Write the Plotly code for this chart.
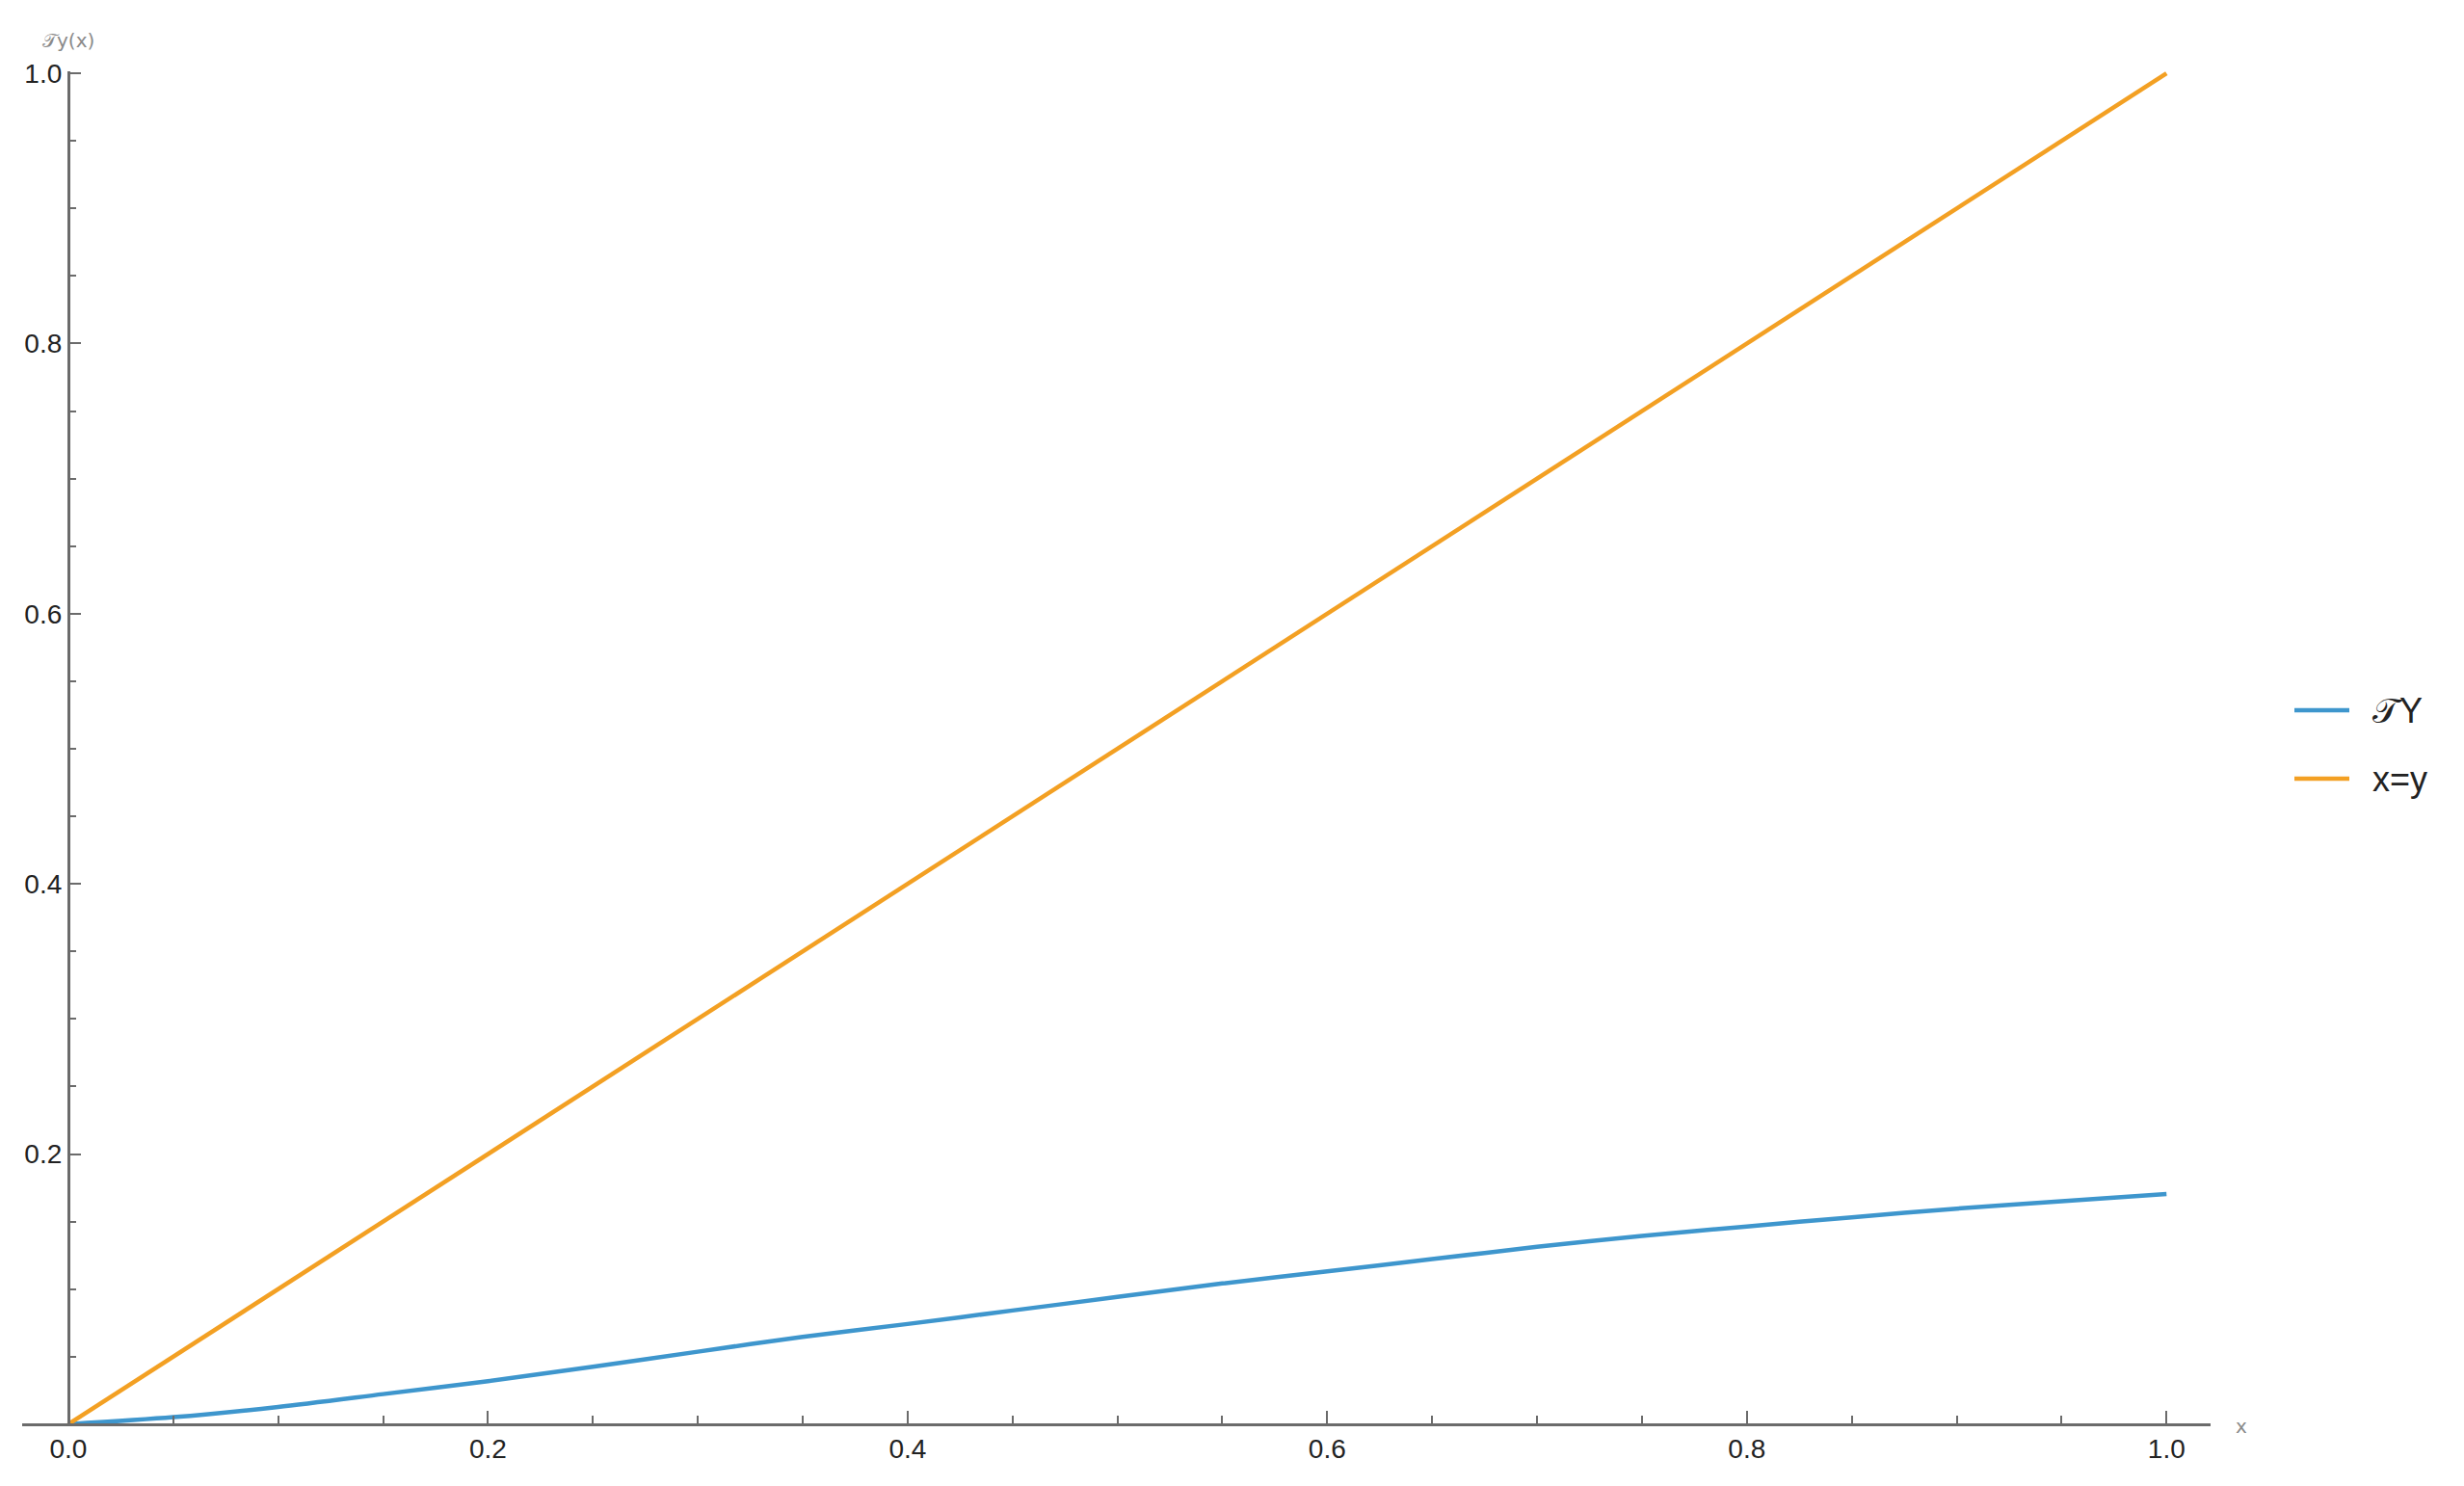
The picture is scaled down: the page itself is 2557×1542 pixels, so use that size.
import plotly.graph_objects as go

# ---- data ----
x_vals = [0.0, 0.05, 0.1, 0.15, 0.2, 0.25, 0.3, 0.35, 0.4, 0.45, 0.5,
          0.55, 0.6, 0.65, 0.7, 0.75, 0.8, 0.85, 0.9, 0.95, 1.0]
ty_vals = [0.0, 0.0052, 0.0128, 0.0223, 0.0319, 0.0426, 0.0537, 0.0647, 0.0742, 0.0842, 0.0942,
           0.1042, 0.1132, 0.1222, 0.1313, 0.1394, 0.1464, 0.1532, 0.1596, 0.1650, 0.1705]
diag_x = [0.0, 1.0]
diag_y = [0.0, 1.0]
series_names = ["\U0001D4AFY", "x=y"]
x_ticks = [0.0, 0.2, 0.4, 0.6, 0.8, 1.0]
y_ticks = [0.2, 0.4, 0.6, 0.8, 1.0]

BLUE = "#3E96CD"
ORANGE = "#F3A023"
AXIS = "#6b6b6b"

W, H = 2557, 1542          # browser window
OFF = 8                    # default page body margin
FW, FH = W - 2 * OFF, H - 2 * OFF
XR = [-0.022, 1.021]
YR = [-0.0015, 1.0015]
# plot area in page pixels
P_LEFT, P_RIGHT, P_TOP, P_BOTTOM = 23, 2294, 74, 1480
ML = P_LEFT - OFF
MT = P_TOP - OFF
MR = FW - (P_RIGHT - OFF)
MB = FH - (P_BOTTOM - OFF)
PW = P_RIGHT - P_LEFT
PH = P_BOTTOM - P_TOP


def px(xp):
    return (xp - P_LEFT) / PW


def py(yp):
    return (P_BOTTOM - yp) / PH


fig = go.Figure()
fig.add_trace(go.Scatter(x=x_vals, y=ty_vals, mode="lines", name=series_names[0],
                         line=dict(color=BLUE, width=4.5, shape="spline", smoothing=0.8),
                         showlegend=False))
fig.add_trace(go.Scatter(x=diag_x, y=diag_y, mode="lines", name=series_names[1],
                         line=dict(color=ORANGE, width=4.5), showlegend=False))

xpos = (0 - YR[0]) / (YR[1] - YR[0])
ypos = (0 - XR[0]) / (XR[1] - XR[0])

tickfont = dict(family="Liberation Sans, Arial, sans-serif", size=28, color="#222222")

fig.update_layout(
    width=FW, height=FH,
    margin=dict(l=ML, r=MR, t=MT, b=MB, autoexpand=False),
    paper_bgcolor="white", plot_bgcolor="white",
    xaxis=dict(range=XR, anchor="free", position=xpos, showgrid=False, zeroline=False,
               automargin=False,
               showline=True, linecolor=AXIS, linewidth=3,
               tickmode="array", tickvals=x_ticks, ticktext=[f"{v:.1f}" for v in x_ticks],
               ticks="inside", ticklen=13, tickwidth=2, tickcolor=AXIS,
               minor=dict(dtick=0.05, tick0=0, ticks="inside", ticklen=8, tickwidth=2,
                          tickcolor=AXIS, showgrid=False),
               tickfont=tickfont),
    yaxis=dict(range=YR, anchor="free", position=ypos, showgrid=False, zeroline=False,
               automargin=False,
               showline=True, linecolor=AXIS, linewidth=3,
               tickmode="array", tickvals=y_ticks, ticktext=[f"{v:.1f}" for v in y_ticks],
               ticks="inside", ticklen=11, tickwidth=2, tickcolor=AXIS,
               minor=dict(dtick=0.05, tick0=0, ticks="inside", ticklen=6, tickwidth=2,
                          tickcolor=AXIS, showgrid=False),
               tickfont=tickfont),
    showlegend=False,
)

label_font = dict(family="DejaVu Sans, Liberation Sans, sans-serif", size=20, color="#8a8a8a")
fig.add_annotation(x=px(71), y=py(42), xref="paper", yref="paper", text="\U0001D4AFy(x)",
                   showarrow=False, font=label_font, xanchor="center", yanchor="middle")
fig.add_annotation(x=px(2326), y=py(1480), xref="paper", yref="paper", text="x",
                   showarrow=False, font=label_font, xanchor="center", yanchor="middle")

# legend (drawn manually to match the long legend swatches)
leg_font = dict(family="Liberation Sans, Arial, sans-serif", size=36, color="#222222")
for name, color, yc in [(series_names[0], BLUE, 737), (series_names[1], ORANGE, 808)]:
    fig.add_shape(type="line", xref="paper", yref="paper",
                  x0=px(2381), x1=px(2438), y0=py(yc), y1=py(yc),
                  line=dict(color=color, width=4.5))
    fig.add_annotation(x=px(2460), y=py(yc), xref="paper", yref="paper", text=name,
                       showarrow=False, font=leg_font, xanchor="left", yanchor="middle")

fig.write_html("out.html")
